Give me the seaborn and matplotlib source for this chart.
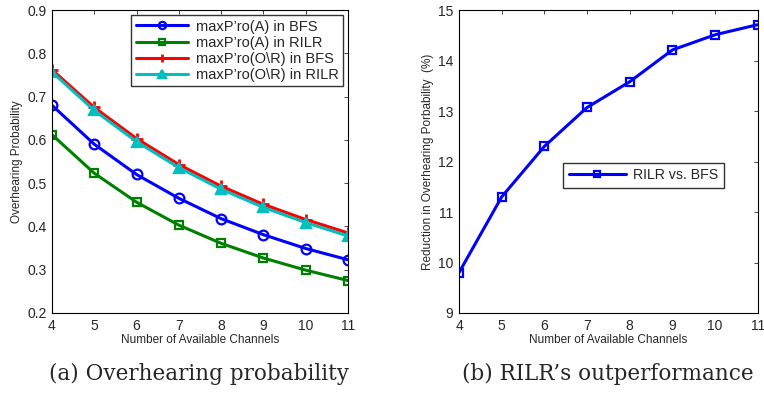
import matplotlib
matplotlib.use("Agg")
import matplotlib.pyplot as plt
import pandas as pd
import seaborn as sns

# data
channels = [4, 5, 6, 7, 8, 9, 10, 11]
bfsA = [0.680, 0.590, 0.520, 0.465, 0.418, 0.381, 0.349, 0.323]
rilrA = [0.612, 0.523, 0.456, 0.403, 0.361, 0.327, 0.299, 0.275]
bfsOR = [0.762, 0.675, 0.603, 0.543, 0.493, 0.451, 0.416, 0.385]
rilrOR = [0.757, 0.668, 0.596, 0.536, 0.486, 0.444, 0.409, 0.378]
reduction = [9.80, 11.30, 12.30, 13.07, 13.58, 14.21, 14.51, 14.71]

seriesNames = ["maxP\u2019ro(A) in BFS", "maxP\u2019ro(A) in RILR",
               "maxP\u2019ro(O\\R) in BFS", "maxP\u2019ro(O\\R) in RILR"]
seriesColors = ["#0000ff", "#008000", "#ff0000", "#00bfbf"]

sns.set_style("white")
plt.rcParams["font.family"] = ["Liberation Sans", "DejaVu Sans"]
plt.rcParams["xtick.direction"] = "in"
plt.rcParams["ytick.direction"] = "in"

fig = plt.figure(figsize=(7.64, 3.95), dpi=100)
axL = fig.add_axes([0.068, 0.2076, 0.3875, 0.767])
axR = fig.add_axes([0.6008, 0.2076, 0.391, 0.767])

# left panel
df = pd.DataFrame({"x": channels * 4,
                   "y": bfsA + rilrA + bfsOR + rilrOR,
                   "series": sum([[n] * len(channels) for n in seriesNames], [])})
styles = [dict(marker="o", mfc="none", ms=7),
          dict(marker="s", mfc="none", ms=6),
          dict(marker="+", ms=8, mew=2),
          dict(marker="^", ms=7)]
for name, col, st in zip(seriesNames, seriesColors, styles):
    sub = df[df["series"] == name]
    sns.lineplot(data=sub, x="x", y="y", ax=axL, color=col, lw=2.2,
                 mec=col, mew=st.pop("mew", 1.6), label=name, **st)

axL.set_xlim(4, 11)
axL.set_ylim(0.2, 0.9)
axL.set_xticks(channels)
axL.set_yticks([0.2, 0.3, 0.4, 0.5, 0.6, 0.7, 0.8, 0.9])
axL.set_xlabel("Number of Available Channels", fontsize=8.5, labelpad=1)
axL.set_ylabel("Overhearing Probability", fontsize=8.5, labelpad=3)
axL.legend(loc="upper right", fontsize=10.5, frameon=True, fancybox=False,
           edgecolor="black", borderpad=0.3, labelspacing=0.15,
           handlelength=3.6, handletextpad=0.5, borderaxespad=0.35,
           markerscale=0.75)

# right panel
dfR = pd.DataFrame({"x": channels, "y": reduction})
sns.lineplot(data=dfR, x="x", y="y", ax=axR, color="#0000ff", lw=2.2,
             marker="s", mfc="none", mec="#0000ff", mew=1.6, ms=6,
             label="RILR vs. BFS")
axR.set_xlim(4, 11)
axR.set_ylim(9, 15)
axR.set_xticks(channels)
axR.set_yticks(range(9, 16))
axR.set_xlabel("Number of Available Channels", fontsize=8.5, labelpad=1)
axR.set_ylabel("Reduction in Overhearing Porbability  (%)", fontsize=8.5, labelpad=3)
axR.legend(loc="upper left", bbox_to_anchor=(0.325, 0.52), fontsize=10.2,
           frameon=True, fancybox=False, edgecolor="black", borderpad=0.4,
           handlelength=4.0, handletextpad=0.5, markerscale=0.75)

for ax in (axL, axR):
    ax.tick_params(labelsize=10, length=3, width=0.6, top=True, right=True, pad=4)
    for sp in ax.spines.values():
        sp.set_visible(True)
        sp.set_color("black")
        sp.set_linewidth(0.8)

# sub-figure captions
fig.text(0.261, 0.037, "(a) Overhearing probability", ha="center",
         fontsize=15.5, family=["DejaVu Serif"])
fig.text(0.796, 0.037, "(b) RILR\u2019s outperformance", ha="center",
         fontsize=15.5, family=["DejaVu Serif"])

fig.savefig("out.png", dpi=100)
